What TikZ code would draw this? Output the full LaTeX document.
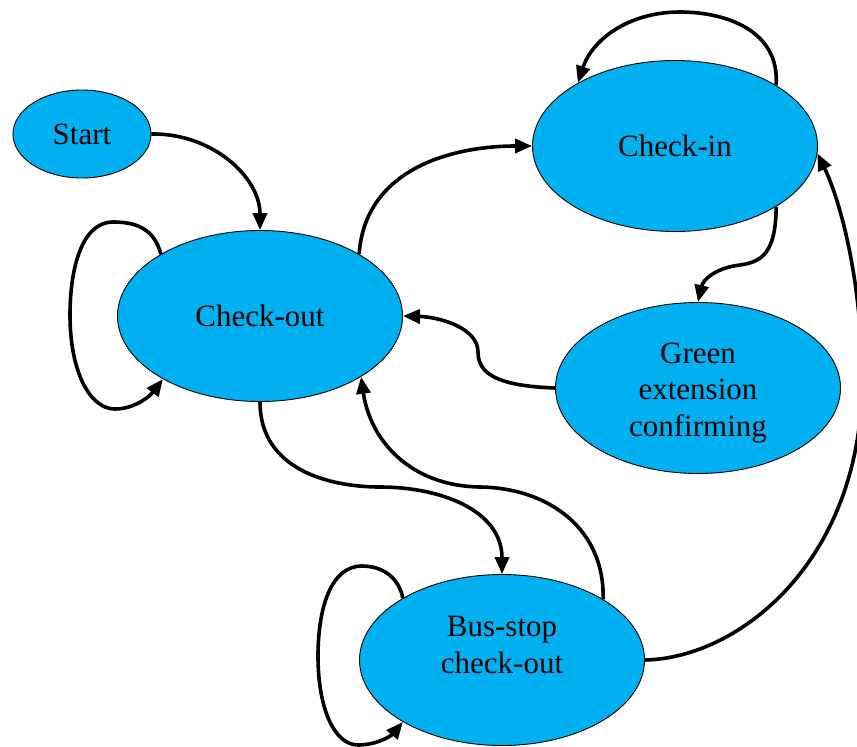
\documentclass[tikz,border=0pt]{standalone}
\usepackage{fontspec}
\setmainfont{Liberation Serif}
\usetikzlibrary{shapes.geometric,arrows.meta}
\definecolor{fillblue}{RGB}{0,176,240}
\tikzset{
  stfont/.style={font=\fontsize{31}{36.5}\selectfont, align=center, text=black},
  stnode/.style={ellipse, draw=black, line width=0.9pt, fill=fillblue, inner sep=0pt, stfont},
  bignode/.style={stnode, minimum width=285pt, minimum height=171pt},
  conn/.style={line width=3.6pt, draw=black, -{Triangle[length=17pt,width=14pt]}}
}
\begin{document}
\begin{tikzpicture}[x=1pt,y=-1pt]
\useasboundingbox (0,0) rectangle (857,747);
\clip (0,0) rectangle (857,747);
% nodes
\node[stnode, minimum width=138pt, minimum height=88pt] (start) at (82,134) {Start};
\node[bignode] (co) at (260,316) {Check-out};
\node[bignode] (ci) at (675,146) {Check-in};
\node[bignode, label={[stfont, yshift=-5pt]center:Green\\extension\\confirming}] (gr) at (698,388) {};
\node[bignode, label={[stfont, yshift=15pt]center:Bus-stop\\check-out}] (bs) at (502,660) {};
% connectors
\draw[conn] (start.east) .. controls (212,133) and (260,177) .. (co.north);
\draw[conn] (co.148) .. controls (154,228) and (135,222) .. (113,222)
   .. controls (82,222) and (70,268) .. (70,315)
   .. controls (70,372) and (90,409) .. (115,409)
   .. controls (135,409) and (150,396) .. (co.213);
\draw[conn] (co.32.5) .. controls (365,170) and (450,146) .. (ci.west);
\draw[conn] (ci.31) .. controls (780,30) and (725,12) .. (680,12)
   .. controls (628,12) and (592,40) .. (ci.147);
\draw[conn] (ci.329) .. controls (776,255) and (760,262) .. (740,265)
   .. controls (715,268) and (703,280) .. (gr.north);
\draw[conn] (gr.west) .. controls (500,386) and (478,375) .. (478,352)
   .. controls (478,328) and (440,317) .. (co.east);
\draw[conn] (co.south) .. controls (260,470) and (330,487) .. (380,487)
   .. controls (440,487) and (502,510) .. (bs.north);
\draw[conn] (bs.31) .. controls (605,530) and (550,488) .. (480,487)
   .. controls (410,486) and (370,440) .. (co.329);
\draw[conn] (bs.148) .. controls (398,575) and (380,566) .. (362,566)
   .. controls (330,566) and (318,610) .. (318,656)
   .. controls (318,710) and (335,745) .. (358,745)
   .. controls (378,745) and (392,735) .. (bs.212);
\draw[conn] (bs.east) .. controls (740,658) and (862,560) .. (862,380)
   .. controls (862,280) and (840,200) .. (ci.-3);
\end{tikzpicture}
\end{document}
